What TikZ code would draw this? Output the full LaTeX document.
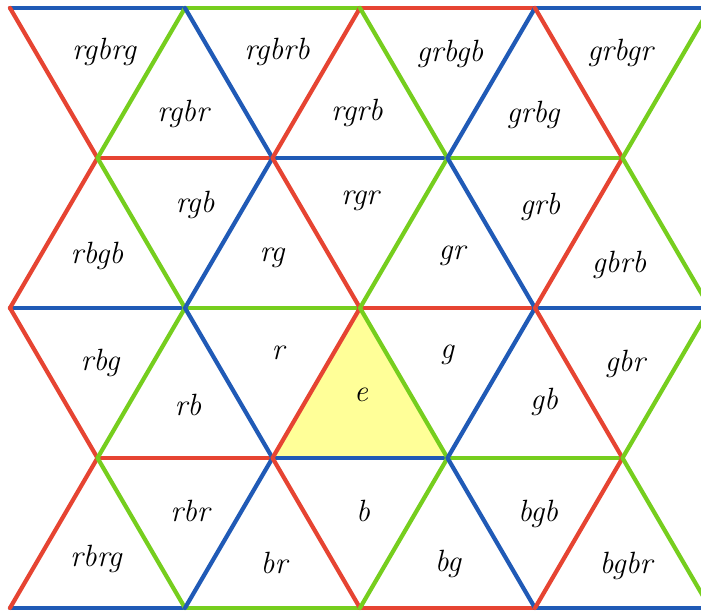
\documentclass[tikz,border=0pt]{standalone}
\definecolor{tred}{RGB}{230,68,50}
\definecolor{tgreen}{RGB}{118,206,30}
\definecolor{tblue}{RGB}{32,90,182}
\definecolor{tyellow}{RGB}{255,255,152}
\tikzset{
  edge/.style={line width=2.4pt,line cap=round},
  lab/.style={font=\fontsize{17.5}{20}\selectfont\itshape}
}
\begin{document}
\begin{tikzpicture}[x=0.02cm,y=0.02cm]
\useasboundingbox (0,0) rectangle (701,615);
\clip (0,0) rectangle (701,615);
% vertices: row j (top to bottom), half-step k
\foreach \j in {0,...,4}
  \foreach \k in {0,...,8}
    \coordinate (p\j-\k) at ({10+87.5*\k},{607-150*\j});
% the identity
\fill[tyellow] (p2-4) -- (p3-3) -- (p3-5) -- cycle;
% horizontal edges
\foreach \j in {0,2,4}
  \foreach \a/\b/\c in {0/2/tblue,2/4/tgreen,4/6/tred,6/8/tblue}
    \draw[edge,\c] (p\j-\a) -- (p\j-\b);
\foreach \j in {1,3}
  \foreach \a/\b/\c in {1/3/tred,3/5/tblue,5/7/tgreen}
    \draw[edge,\c] (p\j-\a) -- (p\j-\b);
% slanted edges, band by band
\foreach \j in {0,...,3}
  \foreach \a/\b/\c in {0/1/tred,1/2/tgreen,2/3/tblue,3/4/tred,4/5/tgreen,5/6/tblue,6/7/tred,7/8/tgreen}{
    \pgfmathtruncatemacro\ra{\j+mod(\a+\j,2)}
    \pgfmathtruncatemacro\rb{\j+mod(\b+\j,2)}
    \draw[edge,\c] (p\ra-\a) -- (p\rb-\b);
  }
% words
\node[lab] (rgbrg) at (104,563) {rgbrg};
\node[lab] (rgbr)  at (183,501) {rgbr};
\node[lab] (rgbrb) at (277,563) {rgbrb};
\node[lab] (rgrb)  at (357,502) {rgrb};
\node[lab] (grbgb) at (450,561) {grbgb};
\node[lab] (grbg)  at (533,500) {grbg};
\node[lab] (grbgr) at (620,562) {grbgr};
\node[lab] (rbgb)  at (97,359)  {rbgb};
\node[lab] (rgb)   at (195,410) {rgb};
\node[lab] (rg)    at (272,357) {rg};
\node[lab] (rgr)   at (360,414) {rgr};
\node[lab] (gr)    at (452,359) {gr};
\node[lab] (grb)   at (540,408) {grb};
\node[lab] (gbrb)  at (619,350) {gbrb};
\node[lab] (rbg)   at (100,252) {rbg};
\node[lab] (r)     at (278,262) {r};
\node[lab] (rb)    at (188,210) {rb};
\node[lab] (e)     at (361,220) {e};
\node[lab] (g)     at (447,260) {g};
\node[lab] (gb)    at (544,213) {gb};
\node[lab] (gbr)   at (625,251) {gbr};
\node[lab] (rbrg)  at (96,56)   {rbrg};
\node[lab] (rbr)   at (190,104) {rbr};
\node[lab] (br)    at (274,52)  {br};
\node[lab] (b)     at (363,104) {b};
\node[lab] (bg)    at (448,51)  {bg};
\node[lab] (bgb)   at (538,101) {bgb};
\node[lab] (bgbr)  at (626,49)  {bgbr};
\end{tikzpicture}
\end{document}
